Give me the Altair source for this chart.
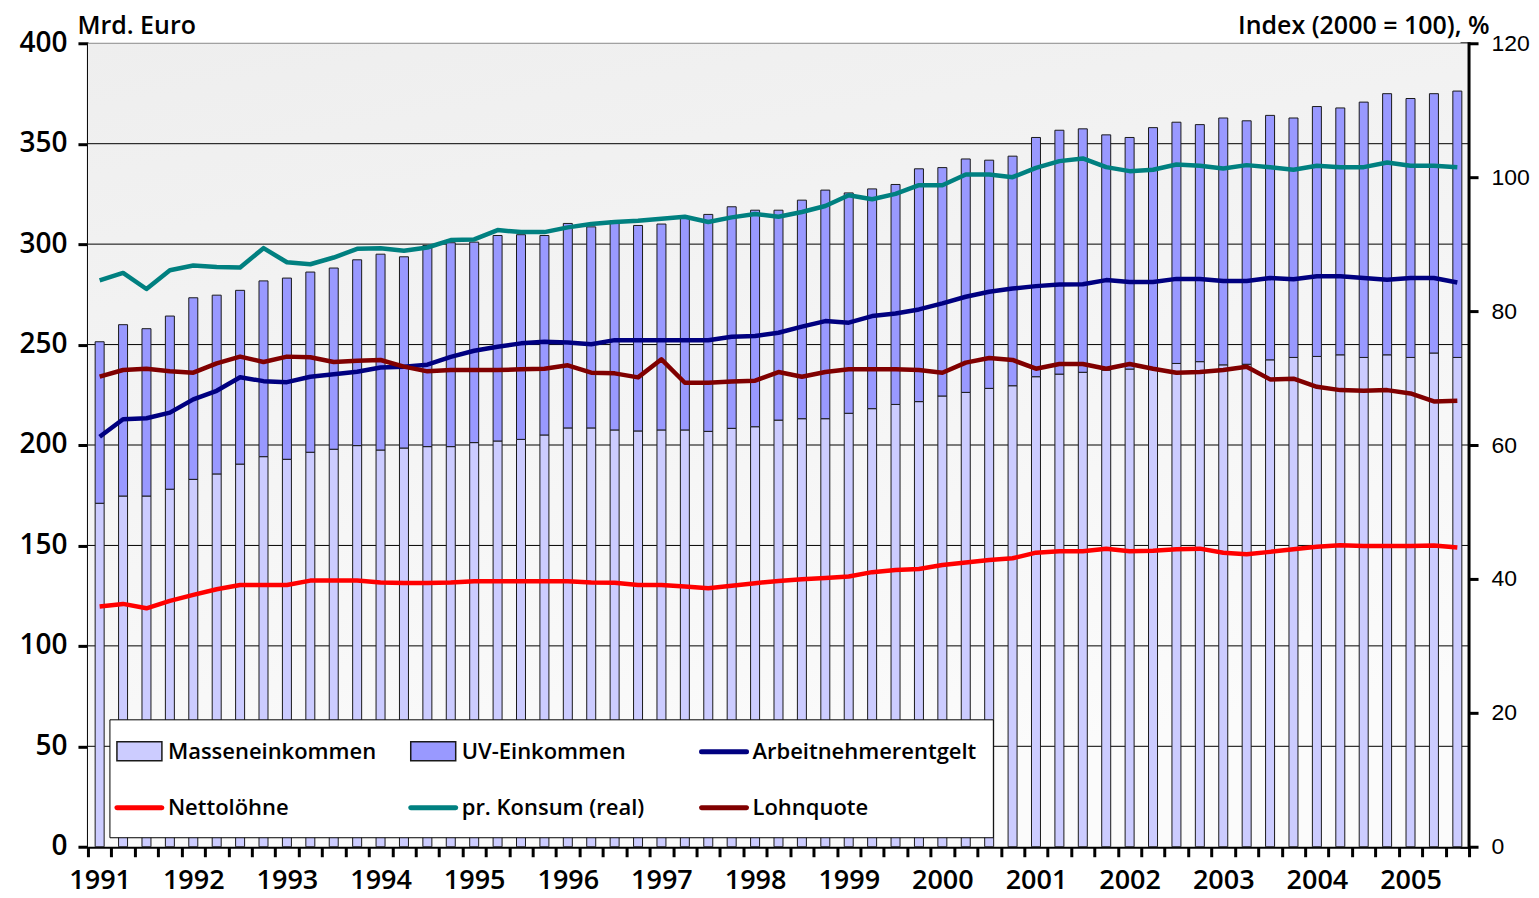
import altair as alt
import pandas as pd

# ---------------- data (quarterly, 1991 Q1 .. 2005 Q3) ----------------
first_year = 1991
total = [251.4, 259.9, 257.9, 264.2, 273.3, 274.6, 277.0, 281.7, 283.1, 286.1, 288.1, 292.2,
         295.0, 293.7, 299.3, 300.7, 301.0, 304.3, 304.7, 304.3, 310.3, 308.6, 311.6, 309.3,
         310.0, 313.3, 314.8, 318.6, 316.9, 316.9, 321.9, 326.9, 325.5, 327.5, 329.7, 337.5,
         338.1, 342.4, 341.8, 343.8, 353.1, 356.7, 357.4, 354.4, 353.1, 358.0, 360.7, 359.5,
         362.8, 361.4, 364.1, 362.8, 368.5, 367.8, 370.7, 374.9, 372.5, 374.9, 376.2]
massen = [171.0, 174.6, 174.6, 178.0, 182.9, 185.6, 190.5, 194.2, 192.9, 196.4, 197.9, 199.7,
          197.5, 198.5, 199.2, 199.2, 201.2, 202.0, 202.8, 205.0, 208.5, 208.5, 207.5, 207.0,
          207.5, 207.5, 206.8, 208.3, 209.1, 212.4, 213.1, 213.1, 215.8, 218.1, 220.2, 221.6,
          224.4, 226.2, 228.2, 229.5, 234.0, 235.3, 236.2, 237.3, 237.8, 238.5, 240.6, 241.5,
          239.9, 240.2, 242.4, 243.6, 244.1, 244.9, 243.6, 244.9, 243.6, 245.8, 243.6]
arbeitnehmer = [204.1, 212.8, 213.3, 216.1, 222.7, 227.0, 233.7, 231.8, 231.3, 234.0, 235.2, 236.5,
                238.6, 239.0, 240.0, 243.9, 246.9, 248.9, 250.6, 251.4, 251.0, 250.2, 252.2, 252.2,
                252.2, 252.2, 252.2, 253.9, 254.3, 255.9, 258.9, 261.7, 260.9, 264.2, 265.5, 267.5,
                270.5, 273.8, 276.3, 277.9, 279.1, 279.9, 280.0, 282.1, 281.2, 281.2, 282.7, 282.7,
                281.6, 281.6, 283.1, 282.5, 284.0, 284.0, 283.1, 282.3, 283.1, 283.1, 280.9]
netto = [119.6, 120.9, 118.7, 122.4, 125.4, 128.2, 130.3, 130.3, 130.3, 132.5, 132.5, 132.5,
         131.5, 131.3, 131.3, 131.5, 132.2, 132.2, 132.2, 132.2, 132.2, 131.5, 131.4, 130.3,
         130.3, 129.5, 128.7, 129.9, 131.2, 132.3, 133.2, 133.8, 134.5, 136.7, 137.8, 138.3,
         140.3, 141.5, 142.8, 143.6, 146.4, 147.1, 147.1, 148.4, 147.1, 147.3, 148.1, 148.4,
         146.4, 145.6, 146.8, 148.1, 149.3, 150.1, 149.7, 149.7, 149.7, 150.0, 149.0]
konsum = [84.6, 85.7, 83.3, 86.1, 86.8, 86.6, 86.5, 89.4, 87.3, 87.0, 88.0, 89.3,
          89.4, 89.0, 89.5, 90.6, 90.7, 92.1, 91.8, 91.8, 92.5, 93.0, 93.3, 93.5,
          93.8, 94.1, 93.3, 94.0, 94.5, 94.1, 94.8, 95.7, 97.3, 96.7, 97.5, 98.8,
          98.8, 100.4, 100.4, 100.0, 101.4, 102.4, 102.8, 101.5, 100.9, 101.1, 101.9, 101.7,
          101.3, 101.8, 101.5, 101.1, 101.7, 101.5, 101.5, 102.2, 101.7, 101.7, 101.5]
lohnquote = [70.2, 71.2, 71.4, 71.0, 70.8, 72.2, 73.2, 72.4, 73.2, 73.1, 72.4, 72.6,
             72.7, 71.7, 71.0, 71.2, 71.2, 71.2, 71.3, 71.4, 71.9, 70.8, 70.7, 70.1,
             72.8, 69.3, 69.3, 69.5, 69.6, 70.9, 70.2, 70.9, 71.3, 71.3, 71.3, 71.2,
             70.8, 72.3, 73.0, 72.7, 71.4, 72.1, 72.1, 71.4, 72.1, 71.4, 70.8, 70.9,
             71.2, 71.7, 69.8, 69.9, 68.7, 68.2, 68.1, 68.2, 67.7, 66.5, 66.6]

series_names = ["Masseneinkommen", "UV-Einkommen", "Arbeitnehmerentgelt",
                "Nettolöhne", "pr. Konsum (real)", "Lohnquote"]
series_colors = ["#CCCCFF", "#9999FF", "#000080", "#FF0000", "#008080", "#800000"]
series_kind = ["bar", "bar", "line", "line", "line", "line"]
left_ticks = [0, 50, 100, 150, 200, 250, 300, 350, 400]
right_ticks = [0, 20, 40, 60, 80, 100, 120]
left_title = "Mrd. Euro"
right_title = "Index (2000 = 100), %"

# ---------------- layout ----------------
W, H = 1382, 804
FONT = "Open Sans"
n = len(total)
df = pd.DataFrame({"q": list(range(n)), "massen": massen, "total": total,
                   "an": arbeitnehmer, "netto": netto, "konsum": konsum, "lq": lohnquote})

xs = alt.Scale(domain=list(range(n)), paddingInner=0, paddingOuter=0)
xax = alt.Axis(title=None, tickBand="extent",
               labelExpr=f"datum.value % 4 == 0 ? toString({first_year} + datum.value / 4) : ''",
               labelAngle=0, labelFont=FONT, labelFontSize=27, labelFontWeight=600,
               labelColor="#000", labelPadding=11, labelOverlap=False, labelFlush=False,
               tickSize=10, tickWidth=3, tickColor="#000",
               domainWidth=3, domainColor="#000", grid=False)
X = alt.X("q:O", scale=xs, axis=xax)

ysL = alt.Scale(domain=[0, 400], nice=False)
yaxL = alt.Axis(title=left_title, values=left_ticks, grid=False,
                labelFont=FONT, labelFontSize=28, labelFontWeight=600, labelColor="#000",
                labelPadding=11, tickSize=10, tickWidth=3, tickColor="#000",
                domainWidth=3, domainColor="#000",
                titleAngle=0, titleAlign="left", titleBaseline="alphabetic",
                titleX=-11, titleY=-10, titleFont=FONT, titleFontSize=25,
                titleFontWeight=600, titleColor="#000")


def YL(field):
    return alt.Y(field, scale=ysL, axis=yaxL, title=left_title)


ysR = alt.Scale(domain=[0, 120], nice=False)
yaxR = alt.Axis(title=right_title, orient="right", values=right_ticks, grid=False,
                offset=-9, domain=False,
                labelFont="Liberation Sans", labelFontSize=23, labelColor="#000",
                labelPadding=13, tickSize=18, tickWidth=3, tickColor="#000",
                titleAngle=0, titleAlign="right", titleBaseline="alphabetic",
                titleX=29, titleY=-10, titleFont=FONT, titleFontSize=25,
                titleFontWeight=600, titleColor="#000")


def YR(field):
    return alt.Y(field, scale=ysR, axis=yaxR, title=right_title)


one = pd.DataFrame({"a": [0]})
bg = alt.Chart(one).mark_rect(
    color=alt.LinearGradient(gradient="linear",
                             stops=[alt.GradientStop(color="#eeeeee", offset=0),
                                    alt.GradientStop(color="#fbfbfb", offset=1)],
                             x1=0, x2=0.3, y1=0, y2=1)
).encode(x=alt.value(0), x2=alt.value(W), y=alt.value(0), y2=alt.value(H))

grid_df = pd.DataFrame({"v": left_ticks[1:-1]})
grid = alt.Chart(grid_df).mark_rule(color="#000", strokeWidth=1).encode(y=YL("v:Q"))
top_df = pd.DataFrame({"v": left_ticks[-1:]})
top_line = alt.Chart(top_df).mark_rule(color="#8a8a8a", strokeWidth=1).encode(y=YL("v:Q"))

base = alt.Chart(df)
bar_m = base.mark_bar(width=9, color=series_colors[0], stroke="#1a1a1a", strokeWidth=1).encode(
    x=X, y=YL("massen:Q"))
bar_uv = base.mark_bar(width=9, color=series_colors[1], stroke="#1a1a1a", strokeWidth=1).encode(
    x=X, y=YL("massen:Q"), y2="total:Q")
line_an = base.mark_line(color=series_colors[2], strokeWidth=4.5, strokeJoin="round").encode(
    x=X, y=YL("an:Q"))
line_net = base.mark_line(color=series_colors[3], strokeWidth=4.5, strokeJoin="round").encode(
    x=X, y=YL("netto:Q"))
left = alt.layer(bg, grid, top_line, bar_m, bar_uv, line_an, line_net)

line_k = base.mark_line(color=series_colors[4], strokeWidth=4.5, strokeJoin="round").encode(
    x=X, y=YR("konsum:Q"))
line_lq = base.mark_line(color=series_colors[5], strokeWidth=4.5, strokeJoin="round").encode(
    x=X, y=YR("lq:Q"))
right = alt.layer(line_lq, line_k)

# ---------------- legend (drawn inside the plot) ----------------
col_x = [29, 323, 614]
row_y = [709, 765]
pos = [(0, 0), (0, 1), (0, 2), (1, 0), (1, 1), (1, 2)]
leg = pd.DataFrame({
    "name": series_names, "col": series_colors, "kind": series_kind,
    "sx0": [col_x[c] for r, c in pos], "sx1": [col_x[c] + 45 for r, c in pos],
    "sy": [row_y[r] for r, c in pos],
    "sy0": [row_y[r] - 10 for r, c in pos], "sy1": [row_y[r] + 9 for r, c in pos],
    "tx": [col_x[c] + 51 for r, c in pos],
})
leg_box = alt.Chart(one).mark_rect(fill="#ffffff", stroke="#000", strokeWidth=1).encode(
    x=alt.value(22), x2=alt.value(906), y=alt.value(677), y2=alt.value(795))
leg_rect = alt.Chart(leg).transform_filter(alt.datum.kind == "bar").mark_rect(
    stroke="#1a1a1a", strokeWidth=1.5).encode(
    x=alt.X("sx0:Q", scale=None), x2="sx1:Q",
    y=alt.Y("sy0:Q", scale=None), y2="sy1:Q",
    fill=alt.Fill("col:N", scale=None))
leg_line = alt.Chart(leg).transform_filter(alt.datum.kind == "line").mark_rule(
    strokeWidth=5, strokeCap="round").encode(
    x=alt.X("sx0:Q", scale=None), x2="sx1:Q",
    y=alt.Y("sy:Q", scale=None),
    color=alt.Color("col:N", scale=None))
leg_text = alt.Chart(leg).mark_text(align="left", baseline="middle", font=FONT,
                                    fontSize=22, fontWeight=600, color="#000").encode(
    x=alt.X("tx:Q", scale=None), y=alt.Y("sy:Q", scale=None), text="name:N")

right_domain = alt.Chart(one).mark_rule(color="#000", strokeWidth=3).encode(
    x=alt.value(W), y=alt.value(-1), y2=alt.value(H + 1))

chart = alt.layer(left, right, leg_box, leg_rect, leg_line, leg_text, right_domain).resolve_scale(
    y="independent"
).properties(
    width=W, height=H,
    autosize=alt.AutoSizeParams(type="none"),
    padding={"left": 80, "top": 35, "right": 62, "bottom": 50},
).configure_view(stroke=None).configure(background="#ffffff")

chart.save("out.html", embed_options={"renderer": "svg", "actions": False})
